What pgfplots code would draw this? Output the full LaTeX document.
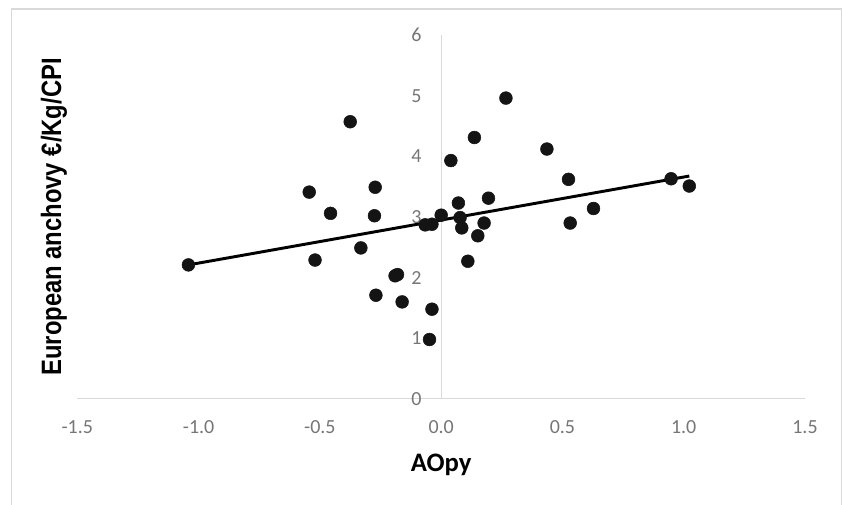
\documentclass[border=0pt]{standalone}
\usepackage{fontspec}
\setmainfont{Carlito}
\newfontfamily\ylabfont{Liberation Sans}
\usepackage{graphicx}
\usepackage{pgfplots}
\pgfplotsset{compat=1.18}
\definecolor{axisgray}{HTML}{D9D9D9}
\definecolor{tickgray}{HTML}{767676}
\definecolor{dotblack}{HTML}{141414}

\begin{document}
\begin{tikzpicture}
% picture frame, 843 x 505 px at 0.75pt per px
\useasboundingbox (-58pt,-79.5pt) rectangle (574.3pt,299.25pt);
\draw[axisgray, line width=0.8pt] (-49.2pt,-80pt) -- (-49.2pt,292.5pt) -- (573.5pt,292.5pt) -- (573.5pt,-80pt);
\begin{axis}[
  scale only axis, width=545.8pt, height=273pt,
  xmin=-1.5, xmax=1.5, ymin=0, ymax=6,
  axis x line=middle, axis y line=middle,
  hide obscured x ticks=false, hide obscured y ticks=false,
  axis line style={-, draw=axisgray, line width=0.8pt},
  every inner x axis line/.append style={-},
  every inner y axis line/.append style={-},
  xtick={-1.5,-1,-0.5,0,0.5,1,1.5},
  xticklabels={-1.5,-1.0,-0.5,0.0,0.5,1.0,1.5},
  ytick={0,1,2,3,4,5,6},
  yticklabels={0,1,2,3,4,5,6},
  major tick length=0pt,
  tick label style={font=\fontsize{15}{16}\selectfont, text=tickgray},
  xticklabel style={anchor=base, yshift=-25.9pt},
  yticklabel style={anchor=east, inner sep=0pt, xshift=-14.5pt},
  clip=false,
  xlabel={AOpy},
  xlabel style={at={(rel axis cs:0.5,0)}, anchor=base, yshift=-54.5pt, font=\fontsize{20}{22}\selectfont\bfseries, text=black},
  ylabel={\scalebox{0.85}[1]{European anchovy €/Kg/CPI}},
  ylabel style={at={(rel axis cs:-0.032,0.5)}, anchor=center, rotate=90, font=\ylabfont\fontsize{21}{23}\selectfont\bfseries, text=black},
]
\addplot[only marks, mark=*, mark size=4.8pt, mark options={draw=dotblack, fill=dotblack}] coordinates {
(-0.375,4.57) (0.040,3.93) (-0.544,3.41) (-0.272,3.49) (-0.456,3.06)
(-0.275,3.02) (0.000,3.03) (-0.066,2.87) (-0.038,2.88) (-0.331,2.49)
(-0.520,2.29) (-1.042,2.21) (-0.190,2.03) (-0.180,2.05) (-0.269,1.71)
(-0.161,1.60) (-0.038,1.48) (-0.048,0.98)
(0.267,4.96) (0.137,4.31) (0.436,4.12) (0.525,3.62) (0.948,3.63)
(0.071,3.23) (0.195,3.31) (0.628,3.14) (0.078,2.99) (0.085,2.82)
(0.177,2.90) (0.532,2.90) (0.151,2.69) (0.110,2.27) (1.023,3.51)
};
% linear trend line
\addplot[black, line width=2.2pt] coordinates {(-1.042,2.21) (1.023,3.675)};
\end{axis}
\end{tikzpicture}
\end{document}
